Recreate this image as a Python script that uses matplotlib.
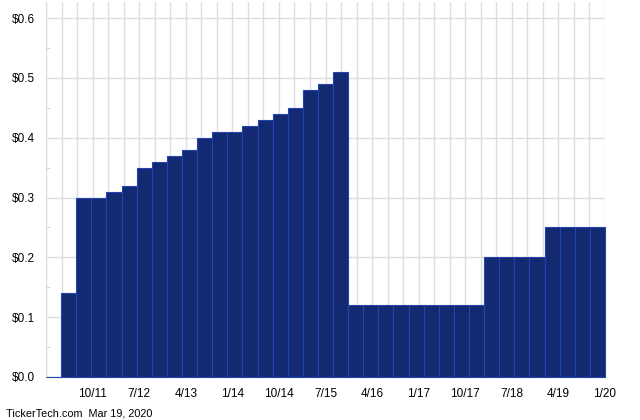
import numpy as np
import matplotlib.pyplot as plt
from matplotlib.ticker import MultipleLocator, FormatStrFormatter

plt.rcParams['font.family'] = ['Liberation Sans', 'DejaVu Sans']

# dividend per share, one bar per payment (Jan 2011 .. Jan 2020)
dividends = [0.0, 0.14, 0.30, 0.30, 0.31, 0.32, 0.35, 0.36, 0.37, 0.38,
             0.40, 0.41, 0.41, 0.42, 0.43, 0.44, 0.45, 0.48, 0.49, 0.51,
             0.12, 0.12, 0.12, 0.12, 0.12, 0.12, 0.12, 0.12, 0.12,
             0.20, 0.20, 0.20, 0.20,
             0.25, 0.25, 0.25, 0.25]
# quarter labels, every third quarter starting 10/11 (quarter 3 after 1/11)
quarter_labels = ['10/11', '7/12', '4/13', '1/14', '10/14', '7/15',
                  '4/16', '1/17', '10/17', '7/18', '4/19', '1/20']
n_quarters = 36  # 1/11 .. 1/20

fig = plt.figure(figsize=(6.4, 4.2), dpi=100)
ax = fig.add_axes([46/640, 1 - 377/420, 559/640, 375/420])

w = n_quarters / len(dividends)
x = np.arange(len(dividends)) * w
ax.bar(x, dividends, width=w, align='edge', color='#132a72',
       edgecolor='#2243b0', linewidth=0.8, zorder=3, clip_on=False)

ax.set_xlim(0, n_quarters)
ax.set_ylim(0, 0.627)

ax.set_xticks(np.arange(0, n_quarters + 1), minor=True)
ax.set_xticks(np.arange(3, n_quarters + 1, 3))
ax.set_xticklabels(quarter_labels)
ax.yaxis.set_major_locator(MultipleLocator(0.1))
ax.yaxis.set_minor_locator(MultipleLocator(0.05))
ax.yaxis.set_major_formatter(FormatStrFormatter('$%.1f'))

ax.grid(True, which='major', axis='y', color='#dddddd', linewidth=1, zorder=0)
ax.grid(True, which='both', axis='x', color='#dddddd', linewidth=1, zorder=0)

ax.tick_params(axis='x', which='both', length=0, pad=8, labelsize=8.5, colors='#000000')
ax.tick_params(axis='y', which='major', length=0, pad=8, labelsize=8.5)
ax.tick_params(axis='y', which='minor', length=3, direction='in', color='#cccccc')

for s in ['top', 'right']:
    ax.spines[s].set_visible(False)
for s in ['left', 'bottom']:
    ax.spines[s].set_color('#cccccc')
    ax.spines[s].set_zorder(1)

fig.text(6/640, 1 - 414/420, 'TickerTech.com  Mar 19, 2020', fontsize=7.8,
         va='center', ha='left')

fig.savefig('out.png', dpi=100)
